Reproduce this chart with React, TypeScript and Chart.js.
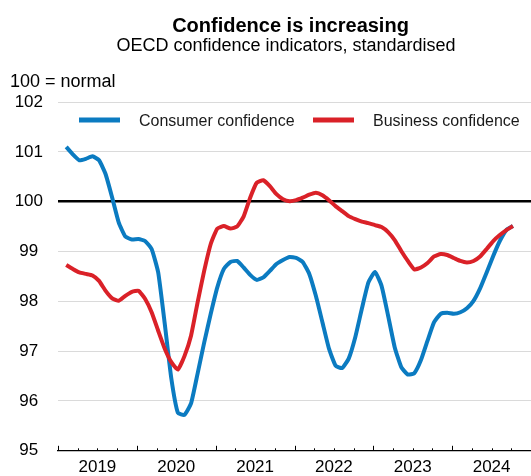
import React, { useEffect, useRef } from 'react';
import { Chart, registerables } from 'chart.js';

Chart.register(...registerables);

const FONT = "'Liberation Sans', Arial, Helvetica, sans-serif";

const TITLE = 'Confidence is increasing';
const SUBTITLE = 'OECD confidence indicators, standardised';
const UNIT_LABEL = '100 = normal';
const SERIES_NAMES = ['Consumer confidence', 'Business confidence'];
const SERIES_COLORS = ['#0b7bc1', '#da2128'];

// months counted from January 2019 (0 = Jan 2019); first observation = Feb 2019
const START_MONTH = 1;
const YEAR_LABELS = ['2019', '2020', '2021', '2022', '2023', '2024'];
const Y_TICKS = [95, 96, 97, 98, 99, 100, 101, 102];

const CONSUMER = [
  101.1, 100.95, 100.83, 100.86, 100.91, 100.83, 100.55, 100.08, 99.58, 99.3, 99.24,
  99.25, 99.21, 99.05, 98.58, 97.55, 96.45, 95.76, 95.72, 95.95, 96.55, 97.17, 97.75,
  98.28, 98.65, 98.79, 98.81, 98.68, 98.53, 98.43, 98.48, 98.61, 98.75, 98.83, 98.89,
  98.87, 98.79, 98.55, 98.11, 97.58, 97.05, 96.71, 96.66, 96.85, 97.28, 97.85, 98.38,
  98.59, 98.31, 97.71, 97.08, 96.68, 96.53, 96.56, 96.82, 97.21, 97.58, 97.75, 97.77,
  97.75, 97.78, 97.86, 98.01, 98.26, 98.58, 98.91, 99.21, 99.43, 99.51,
];

const BUSINESS = [
  98.73, 98.65, 98.58, 98.55, 98.52, 98.41, 98.21, 98.06, 98.01, 98.11, 98.19,
  98.21, 98.05, 97.78, 97.41, 97.05, 96.78, 96.63, 96.9, 97.31, 97.98, 98.61, 99.15,
  99.46, 99.51, 99.46, 99.5, 99.7, 100.08, 100.38, 100.43, 100.31, 100.15, 100.05, 100.01,
  100.03, 100.08, 100.14, 100.18, 100.13, 100.03, 99.91, 99.81, 99.71, 99.65, 99.6, 99.57,
  99.53, 99.49, 99.39, 99.23, 99.01, 98.81, 98.64, 98.68, 98.77, 98.9, 98.95, 98.93,
  98.87, 98.81, 98.78, 98.81, 98.9, 99.05, 99.21, 99.33, 99.43, 99.51,
];

// the axis begins a quarter of a month before the January 2019 observation slot
const AXIS_START = -0.25;

const decorPlugin = {
  id: 'decor',
  afterDraw(chart: any) {
    const ctx = chart.ctx as CanvasRenderingContext2D;
    const xs = chart.scales.x;
    const area = chart.chartArea;
    ctx.save();
    // quarter / year tick marks on the x axis (pointing up)
    ctx.strokeStyle = '#000';
    ctx.lineWidth = 1;
    for (let q = 0; q <= YEAR_LABELS.length * 4; q++) {
      const px = Math.round(xs.getPixelForValue(AXIS_START + 3 * q)) + 0.5;
      if (px > area.right + 0.5) continue;
      const h = q % 4 === 0 ? 5 : 2.5;
      ctx.beginPath();
      ctx.moveTo(px, area.bottom);
      ctx.lineTo(px, area.bottom - h);
      ctx.stroke();
    }
    // titles
    ctx.fillStyle = '#000';
    ctx.textBaseline = 'alphabetic';
    ctx.textAlign = 'center';
    ctx.font = `bold 20px ${FONT}`;
    ctx.fillText(TITLE, 290.5, 32);
    ctx.font = `18px ${FONT}`;
    ctx.fillText(SUBTITLE, 286, 51);
    ctx.textAlign = 'left';
    ctx.fillText(UNIT_LABEL, 10, 87);
    // legend
    const items = [
      { x: 79, tx: 139 },
      { x: 313, tx: 373 },
    ];
    ctx.font = `16px ${FONT}`;
    items.forEach((it, i) => {
      ctx.fillStyle = SERIES_COLORS[i];
      ctx.fillRect(it.x, 117.5, 41, 5);
      ctx.fillStyle = '#1a1a1a';
      ctx.fillText(SERIES_NAMES[i], it.tx, 125.5);
    });
    ctx.restore();
  },
};

export default function App() {
  const ref = useRef<HTMLCanvasElement | null>(null);

  useEffect(() => {
    document.body.style.margin = '0';
    const canvas = ref.current;
    if (!canvas) return;
    const toPoints = (arr: number[]) => arr.map((v, i) => ({ x: START_MONTH + i, y: v }));
    const chart = new Chart(canvas, {
      type: 'line',
      data: {
        datasets: [
          {
            label: SERIES_NAMES[1],
            data: toPoints(BUSINESS),
            borderColor: SERIES_COLORS[1],
            backgroundColor: SERIES_COLORS[1],
          },
          {
            label: SERIES_NAMES[0],
            data: toPoints(CONSUMER),
            borderColor: SERIES_COLORS[0],
            backgroundColor: SERIES_COLORS[0],
          },
        ],
      },
      options: {
        responsive: false,
        animation: false,
        devicePixelRatio: 1,
        layout: { padding: { top: 102, left: 0, right: 0, bottom: 0 } },
        elements: {
          point: { radius: 0, hoverRadius: 0 },
          line: { tension: 0.15, borderWidth: 4, borderJoinStyle: 'round', borderCapStyle: 'butt' },
        },
        plugins: {
          legend: { display: false },
          title: { display: false },
          tooltip: { enabled: false },
        },
        scales: {
          x: {
            type: 'linear',
            min: AXIS_START,
            max: AXIS_START + YEAR_LABELS.length * 12,
            afterBuildTicks: (s: any) => {
              s.ticks = YEAR_LABELS.map((_, i) => ({ value: AXIS_START + 12 * i + 6 }));
            },
            afterFit: (s: any) => {
              s.height = 23.5;
            },
            grid: { display: false, drawTicks: false },
            border: { display: true, color: '#000', width: 1.3 },
            ticks: {
              autoSkip: false,
              maxRotation: 0,
              padding: 6,
              color: '#000',
              font: { size: 17, family: FONT },
              callback: (_v: any, i: number) => YEAR_LABELS[i],
            },
          },
          y: {
            type: 'linear',
            min: Y_TICKS[0],
            max: Y_TICKS[Y_TICKS.length - 1],
            afterBuildTicks: (s: any) => {
              s.ticks = Y_TICKS.map((v) => ({ value: v }));
            },
            afterFit: (s: any) => {
              s.width = 58;
            },
            border: { display: false },
            grid: {
              drawTicks: false,
              color: (c: any) =>
                c.tick && c.tick.value === 100
                  ? '#000'
                  : c.tick && c.tick.value === 95
                  ? 'rgba(0,0,0,0)'
                  : '#dadada',
              lineWidth: (c: any) => (c.tick && c.tick.value === 100 ? 2.6 : 1),
            },
            ticks: {
              crossAlign: 'center',
              padding: 15,
              color: '#000',
              font: { size: 17, family: FONT },
              callback: (v: any) => String(v),
            },
          },
        },
      } as any,
      plugins: [decorPlugin],
    });
    return () => chart.destroy();
  }, []);

  return (
    <canvas
      ref={ref}
      width={531}
      height={476}
      style={{ display: 'block', width: '531px', height: '476px' }}
    />
  );
}
